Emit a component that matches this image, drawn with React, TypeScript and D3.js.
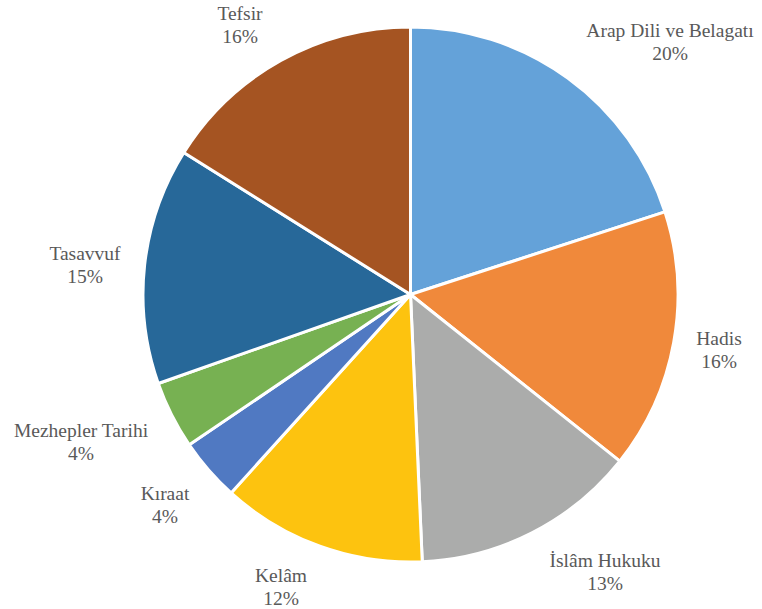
import React from "react";
import * as d3 from "d3";

const categories = ["Arap Dili ve Belagatı", "Hadis", "İslâm Hukuku", "Kelâm", "Kıraat", "Mezhepler Tarihi", "Tasavvuf", "Tefsir"];
const values = [20.0, 15.7, 13.6, 12.4, 3.8, 4.1, 14.3, 16.1];
const percentLabels = ["20%", "16%", "13%", "12%", "4%", "4%", "15%", "16%"];
const colors = ["#64A2D9", "#F0893B", "#ABACAB", "#FDC30F", "#5079C2", "#77B152", "#276899", "#A55422"];
// label anchor positions (centre x, first baseline y)
const labelPos: [number, number][] = [
  [670, 37], [719, 345], [605, 567], [281, 582], [165, 500], [81, 437], [85, 260], [240, 20],
];

const W = 762, H = 609;
const cx = 410.5, cy = 294.5, R = 267.5;

export default function App() {
  const pie = d3.pie<number>().sort(null).value((d) => d);
  const arcs = pie(values);
  const arc = d3.arc<d3.PieArcDatum<number>>().innerRadius(0).outerRadius(R);
  return (
    <svg width={W} height={H} style={{ position: "absolute", left: 0, top: 0, background: "#fff" }}>
      <g transform={`translate(${cx},${cy})`}>
        {arcs.map((a, i) => (
          <path key={i} d={arc(a) || ""} fill={colors[i]} stroke="#fff" strokeWidth={3} strokeLinejoin="round" />
        ))}
      </g>
      {categories.map((c, i) => (
        <text key={c} x={labelPos[i][0]} y={labelPos[i][1]} textAnchor="middle" style={{ fontFamily: "Liberation Serif", fontSize: "19.5px" }} fill="#595959">
          <tspan x={labelPos[i][0]}>{c}</tspan>
          <tspan x={labelPos[i][0]} dy={22.5}>{percentLabels[i]}</tspan>
        </text>
      ))}
    </svg>
  );
}
